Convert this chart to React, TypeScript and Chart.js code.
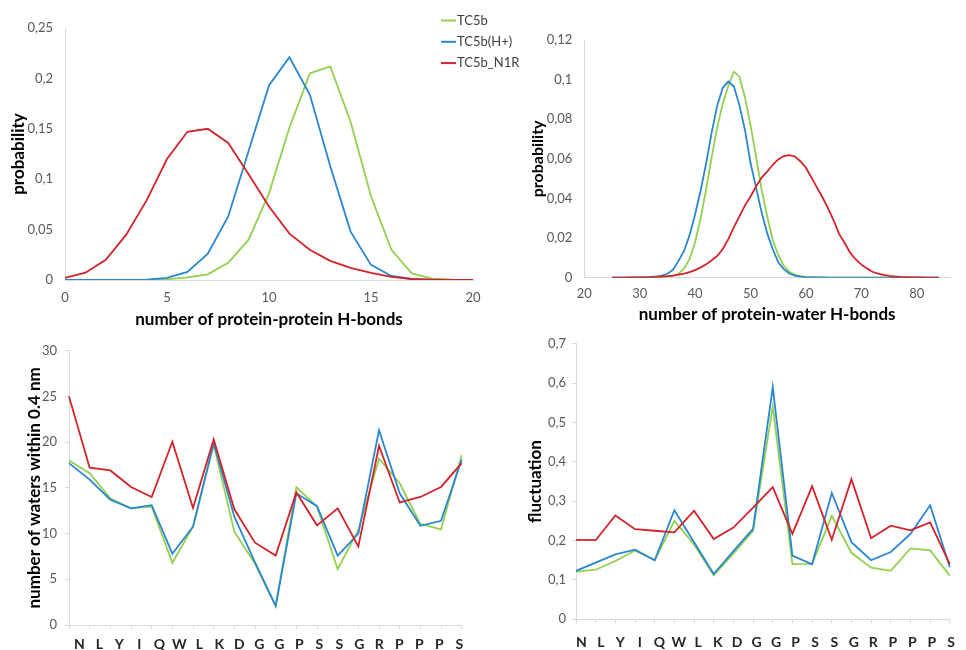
import { useEffect, useRef } from 'react';
import { Chart, registerables } from 'chart.js';

Chart.register(...registerables);

// ---- series ----
const seriesNames = ['TC5b', 'TC5b(H+)', 'TC5b_N1R'];
const seriesColors = ['#92d050', '#2a86d2', '#d2232a'];

// ---- protein-protein H-bond distribution ----
const ppBonds = [0, 1, 2, 3, 4, 5, 6, 7, 8, 9, 10, 11, 12, 13, 14, 15, 16, 17, 18, 19, 20];
const ppTC5b = [0, 0, 0, 0, 0, 0.0007, 0.0026, 0.0056, 0.017, 0.04, 0.086, 0.151, 0.205, 0.212, 0.157, 0.083, 0.03, 0.0066, 0.0013, 0.0003, 0];
const ppTC5bH = [0, 0, 0, 0, 0.0003, 0.002, 0.008, 0.026, 0.063, 0.128, 0.193, 0.221, 0.184, 0.113, 0.048, 0.015, 0.004, 0.001, 0.0002, 0, 0];
const ppN1R = [0.002, 0.0073, 0.02, 0.045, 0.079, 0.12, 0.147, 0.15, 0.136, 0.105, 0.073, 0.046, 0.03, 0.019, 0.012, 0.007, 0.003, 0.001, 0.0003, 0, 0];

// ---- protein-water H-bond distribution ----
const pwBonds = [
  25, 26, 27, 28, 29, 30, 31, 32, 33, 34, 35, 36, 37, 38, 39, 40, 41, 42, 43, 44,
  45, 46, 47, 48, 49, 50, 51, 52, 53, 54, 55, 56, 57, 58, 59, 60, 61, 62, 63, 64,
  65, 66, 67, 68, 69, 70, 71, 72, 73, 74, 75, 76, 77, 78, 79, 80, 81, 82, 83, 84,
];
const pwTC5b = [
  0, 0, 0, 0, 0, 0, 0, 0.0001, 0.0001, 0.0002, 0.0005, 0.001, 0.002, 0.0045, 0.0095, 0.018, 0.03, 0.045, 0.061, 0.076,
  0.088, 0.097, 0.104, 0.1015, 0.091, 0.077, 0.061, 0.0445, 0.031, 0.019, 0.0115, 0.006, 0.003, 0.0015, 0.0008, 0.0004, 0.0002, 0.0001, 0, 0,
  0, 0, 0, 0, 0, 0, 0, 0, 0, 0, 0, 0, 0, 0, 0, 0, 0, 0, 0, 0,
];
const pwTC5bH = [
  0, 0, 0, 0, 0, 0.0001, 0.0002, 0.0003, 0.0006, 0.0011, 0.002, 0.004, 0.0085, 0.0135, 0.0215, 0.032, 0.044, 0.058, 0.0735, 0.087,
  0.096, 0.099, 0.0965, 0.087, 0.0745, 0.058, 0.0455, 0.033, 0.0225, 0.0145, 0.0078, 0.0043, 0.0021, 0.0011, 0.0005, 0.0003, 0.0002, 0.0001, 0.0001, 0,
  0, 0, 0, 0, 0, 0, 0, 0, 0, 0, 0, 0, 0, 0, 0, 0, 0, 0, 0, 0,
];
const pwN1R = [
  0, 0, 0, 0.0001, 0.0001, 0.0002, 0.0002, 0.0003, 0.0004, 0.0006, 0.0008, 0.0011, 0.0015, 0.002, 0.0028, 0.0038, 0.0052, 0.0068, 0.0088, 0.011,
  0.0145, 0.0195, 0.0255, 0.031, 0.0365, 0.041, 0.046, 0.0505, 0.0535, 0.057, 0.0597, 0.0614, 0.0619, 0.0612, 0.0588, 0.0555, 0.0505, 0.0455, 0.0405, 0.035,
  0.029, 0.022, 0.0175, 0.0125, 0.0092, 0.0066, 0.0047, 0.003, 0.0021, 0.0014, 0.0009, 0.0006, 0.0004, 0.0003, 0.0002, 0.0001, 0.0001, 0, 0, 0,
];

// ---- per-residue data ----
const residues = ['N', 'L', 'Y', 'I', 'Q', 'W', 'L', 'K', 'D', 'G', 'G', 'P', 'S', 'S', 'G', 'R', 'P', 'P', 'P', 'S'];

const watersTC5b = [18.0, 16.6, 13.85, 12.75, 12.95, 6.8, 10.75, 19.7, 10.2, 6.7, 2.1, 15.05, 12.95, 6.1, 10.4, 18.2, 15.5, 11.05, 10.45, 18.6];
const watersTC5bH = [17.7, 15.9, 13.7, 12.75, 13.1, 7.8, 10.75, 19.9, 11.85, 6.85, 2.08, 14.4, 13.0, 7.6, 10.0, 21.3, 14.4, 10.85, 11.4, 18.1];
const watersN1R = [25.0, 17.2, 16.9, 15.1, 14.0, 20.05, 12.8, 20.3, 12.65, 9.0, 7.6, 14.5, 10.9, 12.75, 8.6, 19.6, 13.4, 14.0, 15.1, 17.7];

const fluctTC5b = [0.121, 0.126, 0.148, 0.175, 0.15, 0.25, 0.19, 0.112, 0.167, 0.225, 0.541, 0.14, 0.141, 0.263, 0.169, 0.131, 0.123, 0.18, 0.175, 0.111];
const fluctTC5bH = [0.123, 0.144, 0.165, 0.177, 0.15, 0.277, 0.196, 0.115, 0.173, 0.23, 0.59, 0.162, 0.14, 0.321, 0.196, 0.15, 0.171, 0.217, 0.29, 0.132];
const fluctN1R = [0.202, 0.201, 0.264, 0.229, 0.225, 0.221, 0.276, 0.204, 0.233, 0.284, 0.336, 0.217, 0.338, 0.202, 0.356, 0.206, 0.238, 0.226, 0.246, 0.14];

// ---- styling ----
const FONT = 'Lato, "Open Sans", sans-serif';
const TICK_COLOR = '#595959';
const AXIS_COLOR = '#d9d9d9';

const comma = (v: number | string) => String(Math.round(Number(v) * 1000) / 1000).replace('.', ',');

function lineSets(series: number[][], xs?: number[]) {
  return series.map((vals, i) => ({
    label: seriesNames[i],
    data: xs ? vals.map((y, j) => ({ x: xs[j], y })) : vals,
    borderColor: seriesColors[i],
    backgroundColor: seriesColors[i],
    borderWidth: 1.8,
    pointRadius: 0,
    tension: 0,
    fill: false,
    order: 3 - i,
  }));
}

function baseOptions(padding: any) {
  return {
    responsive: false,
    animation: false as const,
    events: [] as any[],
    layout: { padding },
    plugins: { legend: { display: false }, tooltip: { enabled: false } },
  };
}

function yAxis(o: {
  min: number;
  max: number;
  step: number;
  width: number;
  title: string;
  titleSize: number;
  titlePad: number;
  tickPad: number;
  tickLen: number;
  fmt?: (v: any) => string;
}) {
  return {
    type: 'linear',
    position: 'left',
    min: o.min,
    max: o.max,
    ticks: {
      stepSize: o.step,
      padding: o.tickPad,
      color: TICK_COLOR,
      font: { family: FONT, size: 13 },
      callback: o.fmt ?? ((v: any) => String(v)),
    },
    grid: { display: o.tickLen > 0, drawOnChartArea: false, drawTicks: o.tickLen > 0, tickLength: o.tickLen, color: AXIS_COLOR },
    border: { display: true, color: AXIS_COLOR, width: 1 },
    title: {
      display: true,
      text: o.title,
      color: '#000',
      font: { family: FONT, size: o.titleSize, weight: 'bold' },
      padding: { top: o.titlePad, bottom: 0 },
    },
    afterFit: (s: any) => {
      s.width = o.width;
    },
  };
}

// key drawn in the top-left panel, to the right of its plot
const seriesKey = {
  id: 'seriesKey',
  afterDraw(chart: any) {
    const { ctx, chartArea } = chart;
    const x0 = chartArea.right - 32;
    ctx.save();
    ctx.font = `13px ${FONT}`;
    ctx.textBaseline = 'middle';
    ctx.textAlign = 'left';
    seriesNames.forEach((name, i) => {
      const y = chartArea.top - 7.5 + i * 21.3;
      ctx.strokeStyle = seriesColors[i];
      ctx.lineWidth = 2;
      ctx.beginPath();
      ctx.moveTo(x0, y);
      ctx.lineTo(x0 + 15, y);
      ctx.stroke();
      ctx.fillStyle = '#404040';
      ctx.fillText(name, x0 + 16, y);
    });
    ctx.restore();
  },
};

function residueAxes(labelMin: number, labelMax: number, labelHeight: number, labelPad: number) {
  return {
    x: {
      type: 'category',
      offset: false,
      ticks: { display: false },
      grid: { display: true, drawOnChartArea: false, drawTicks: true, tickLength: 4, color: AXIS_COLOR },
      border: { display: true, color: AXIS_COLOR },
      afterFit: (s: any) => {
        s.height = 4;
      },
    },
    xl: {
      type: 'linear',
      position: 'bottom',
      min: labelMin,
      max: labelMax,
      grid: { display: false, drawTicks: false },
      border: { display: false },
      ticks: {
        padding: labelPad,
        autoSkip: false,
        maxRotation: 0,
        color: '#262626',
        font: { family: FONT, size: 14, weight: 'bold' },
        callback: (v: any) => residues[Math.round(Number(v))] ?? '',
      },
      afterBuildTicks: (s: any) => {
        s.ticks = residues.map((_, i) => ({ value: i }));
      },
      afterFit: (s: any) => {
        s.height = labelHeight;
      },
    },
  };
}

export default function App() {
  const tl = useRef<HTMLCanvasElement>(null);
  const tr = useRef<HTMLCanvasElement>(null);
  const bl = useRef<HTMLCanvasElement>(null);
  const br = useRef<HTMLCanvasElement>(null);

  useEffect(() => {
    const xTitleFont = { family: FONT, size: 17, weight: 'bold' };
    const xTickFont = { family: FONT, size: 13 };

    const protein = new Chart(tl.current!, {
      type: 'line',
      data: { datasets: lineSets([ppTC5b, ppTC5bH, ppN1R], ppBonds) as any },
      options: {
        ...baseOptions({ left: 0, top: 28, right: 72, bottom: 0 }),
        scales: {
          x: {
            type: 'linear',
            min: 0,
            max: 20,
            ticks: { stepSize: 5, padding: 10, color: TICK_COLOR, font: xTickFont },
            grid: { display: false, drawTicks: false },
            border: { display: true, color: AXIS_COLOR },
            title: { display: true, text: 'number of protein-protein H-bonds', color: '#000', font: xTitleFont, padding: { top: 0, bottom: 0 } },
            afterFit: (s: any) => {
              s.height = 50;
            },
          },
          y: yAxis({ min: 0, max: 0.25, step: 0.05, width: 65, title: 'probability', titleSize: 17, titlePad: 8, tickPad: 12, tickLen: 0, fmt: comma }),
        },
      } as any,
      plugins: [seriesKey],
    });

    const water = new Chart(tr.current!, {
      type: 'line',
      data: { datasets: lineSets([pwTC5b, pwTC5bH, pwN1R], pwBonds) as any },
      options: {
        ...baseOptions({ left: 0, top: 40, right: 16, bottom: 0 }),
        scales: {
          x: {
            type: 'linear',
            min: 20,
            max: 86,
            ticks: { stepSize: 10, padding: 8, color: TICK_COLOR, font: xTickFont },
            afterBuildTicks: (s: any) => {
              s.ticks = s.ticks.filter((t: any) => t.value % 10 === 0);
            },
            grid: { display: false, drawTicks: false },
            border: { display: true, color: AXIS_COLOR },
            title: { display: true, text: 'number of protein-water H-bonds', color: '#000', font: xTitleFont, padding: { top: 0, bottom: 5 } },
            afterFit: (s: any) => {
              s.height = 52.3;
            },
          },
          y: yAxis({ min: 0, max: 0.12, step: 0.02, width: 69.3, title: 'probability', titleSize: 16, titlePad: 13, tickPad: 12, tickLen: 0, fmt: comma }),
        },
      } as any,
    });

    const waters = new Chart(bl.current!, {
      type: 'line',
      data: { labels: residues, datasets: lineSets([watersTC5b, watersTC5bH, watersN1R]) as any },
      options: {
        ...baseOptions({ left: 0, top: 20.7, right: 28.3, bottom: 0 }),
        scales: {
          ...residueAxes(-0.517, 19.117, 21, 7),
          y: yAxis({ min: 0, max: 30, step: 5, width: 69, title: 'number of waters within 0.4 nm', titleSize: 17, titlePad: 24, tickPad: 8, tickLen: 4 }),
        },
      } as any,
    });

    const fluct = new Chart(br.current!, {
      type: 'line',
      data: { labels: residues, datasets: lineSets([fluctTC5b, fluctTC5bH, fluctN1R]) as any },
      options: {
        ...baseOptions({ left: 0, top: 9, right: 4.7, bottom: 0 }),
        scales: {
          ...residueAxes(-0.282, 18.93, 26.7, 11),
          y: yAxis({ min: 0, max: 0.7, step: 0.1, width: 86, title: 'fluctuation', titleSize: 17, titlePad: 35, tickPad: 6, tickLen: 4, fmt: comma }),
        },
      } as any,
    });

    return () => {
      protein.destroy();
      water.destroy();
      waters.destroy();
      fluct.destroy();
    };
  }, []);

  const abs = (left: number, top: number) => ({ position: 'absolute' as const, left, top });

  return (
    <div style={{ position: 'absolute', left: 0, top: 0, width: 966, height: 650, background: '#ffffff', overflow: 'hidden' }}>
      <canvas ref={tl} width={545} height={330} style={abs(0, 0)} />
      <canvas ref={tr} width={451} height={330} style={abs(515, 0)} />
      <canvas ref={bl} width={490} height={320} style={abs(0, 330)} />
      <canvas ref={br} width={476} height={320} style={abs(490, 330)} />
    </div>
  );
}
